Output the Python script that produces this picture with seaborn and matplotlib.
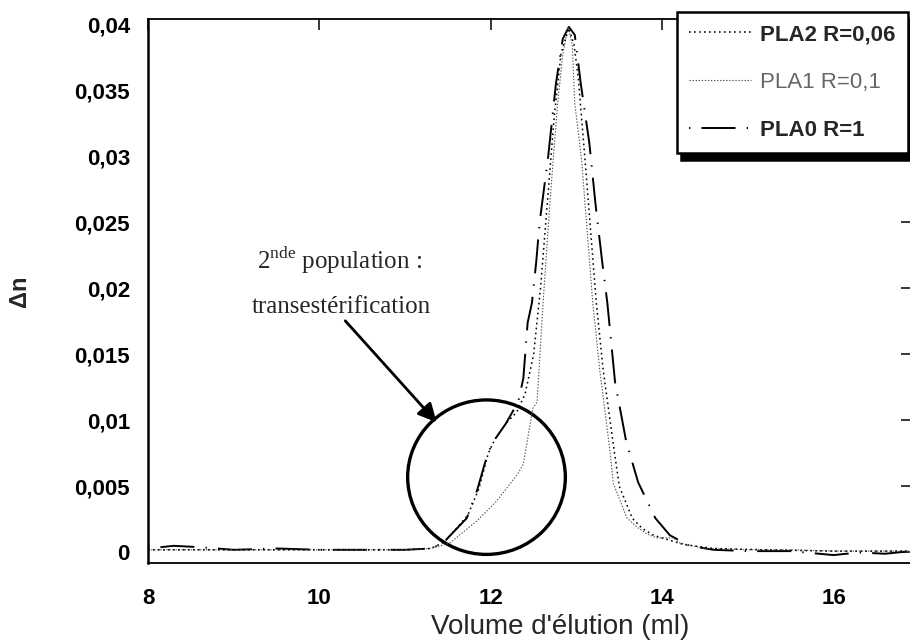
import numpy as np
import pandas as pd
import matplotlib
matplotlib.use("Agg")
import matplotlib.pyplot as plt
import seaborn as sns
from matplotlib.patches import Ellipse

sns.set_theme(style="white")
plt.rcParams['font.family'] = ['Liberation Sans', 'DejaVu Sans']
plt.rcParams['mathtext.fontset'] = 'custom'
plt.rcParams['mathtext.rm'] = 'Liberation Serif'
plt.rcParams['lines.scale_dashes'] = False

# ---- data ----
pla0_x = [8.0, 8.3, 8.6, 9.0, 9.5, 10.0, 10.5, 11.0, 11.3, 11.44, 11.72, 11.84, 11.96, 12.03,
          12.17, 12.32, 12.38, 12.43, 12.48, 12.53, 12.57, 12.67, 12.76, 12.84, 12.91,
          12.98, 13.05, 13.15, 13.22, 13.30, 13.36, 13.45, 13.58, 13.72, 13.92, 14.09,
          14.32, 14.6, 15.0, 15.5, 16.0, 16.3, 16.6, 16.9]
pla0_y = [0.0003, 0.0005, 0.0004, 0.0002, 0.0003, 0.0002, 0.0002, 0.0002, 0.0003, 0.0007,
          0.0026, 0.0047, 0.0074, 0.0084, 0.0097, 0.0114, 0.0132, 0.0174, 0.0189, 0.0220,
          0.0250, 0.0300, 0.0355, 0.0389, 0.0398, 0.0392, 0.0355, 0.0310, 0.0265, 0.0220,
          0.0189, 0.0129, 0.0084, 0.0053, 0.0026, 0.0013, 0.0005, 0.0002, 0.0001, 0.0001,
          -0.0002, 0.0000, -0.0001, 0.0001]

pla1_x = [8.0, 9.0, 10.0, 11.0, 11.3, 11.52, 11.84, 12.07, 12.31, 12.38, 12.49, 12.54, 12.61,
          12.69, 12.78, 12.84, 12.90, 12.95, 12.98, 13.06, 13.19, 13.27, 13.39, 13.43,
          13.59, 13.71, 13.82, 13.94, 14.13, 14.21, 14.5, 15.0, 15.5, 16.0, 16.9]
pla1_y = [0.0002, 0.0002, 0.0002, 0.0002, 0.0003, 0.0007, 0.0024, 0.0039, 0.0059, 0.0067,
          0.0109, 0.0114, 0.0189, 0.0265, 0.0340, 0.0377, 0.0398, 0.0385, 0.0340, 0.0297,
          0.0189, 0.0139, 0.0077, 0.0052, 0.0026, 0.0019, 0.0014, 0.0011, 0.0011, 0.0007,
          0.0003, 0.0002, 0.0002, 0.0001, 0.0001]

pla2_x = [8.0, 9.0, 10.0, 11.0, 11.3, 11.46, 11.73, 11.86, 11.97, 12.05, 12.18, 12.30, 12.40,
          12.50, 12.58, 12.66, 12.74, 12.82, 12.91, 12.97, 13.02, 13.10, 13.23, 13.31,
          13.44, 13.50, 13.65, 13.77, 13.90, 14.05, 14.25, 14.6, 15.2, 16.0, 16.9]
pla2_y = [0.0002, 0.0002, 0.0002, 0.0002, 0.0003, 0.0008, 0.0028, 0.0048, 0.0075, 0.0086,
          0.0098, 0.0106, 0.0120, 0.0150, 0.0200, 0.0265, 0.0330, 0.0378, 0.0397, 0.0385,
          0.0360, 0.0297, 0.0190, 0.0139, 0.0077, 0.0050, 0.0026, 0.0018, 0.0013, 0.0010,
          0.0006, 0.0003, 0.0002, 0.0001, 0.0001]

labels = ["PLA2 R=0,06", "PLA1 R=0,1", "PLA0 R=1"]
yticks = [0, 0.005, 0.01, 0.015, 0.02, 0.025, 0.03, 0.035, 0.04]
ytick_labels = ["0", "0,005", "0,01", "0,015", "0,02", "0,025", "0,03", "0,035", "0,04"]
xticks = [8, 10, 12, 14, 16]

# ---- figure ----
fig = plt.figure(figsize=(9.1, 6.44), dpi=100)
W, H = 910, 644
ax = fig.add_axes([148 / W, 1 - 563 / H, (912 - 148) / W, (563 - 19) / H])

sns.lineplot(x=pla0_x, y=pla0_y, ax=ax, color='black', lw=1.4, estimator=None,
             linestyle=(32.5, (24.5, 8, 1, 8)), label=labels[2])
sns.lineplot(x=pla1_x, y=pla1_y, ax=ax, color='#555555', lw=0.8, estimator=None,
             linestyle=(0, (1, 1.2)), label=labels[1])
sns.lineplot(x=pla2_x, y=pla2_y, ax=ax, color='black', lw=1.1, estimator=None,
             linestyle=(0, (1.2, 2.4)), label=labels[0])

ax.set_xlim(8, 16.915)
ax.set_ylim(-0.0008, 0.0404)
ax.set_xticks(xticks)
ax.set_xticklabels([str(t) for t in xticks])
ax.set_yticks(yticks)
ax.set_yticklabels(ytick_labels)
ax.tick_params(axis='both', direction='in', length=8, width=1.1, colors='black',
               top=True, right=True, labelsize=16)
ax.tick_params(axis='y', pad=13)
ax.tick_params(axis='x', pad=18)
for lab in ax.get_xticklabels() + ax.get_yticklabels():
    lab.set_fontweight('bold')
for s in ax.spines.values():
    s.set_color('black')
    s.set_linewidth(1.3)
ax.spines['left'].set_linewidth(1.8)

ax.set_xlabel("Volume d'élution (ml)", fontsize=20)
ax.xaxis.set_label_coords((560 - 148) / 764, (563 - 614) / 544)
ax.set_ylabel("Δn", fontsize=17, fontweight='bold')
ax.yaxis.set_label_coords((31 - 148) / 764, 0.5)

# annotation
ax.add_patch(Ellipse((11.95, 0.0057), width=1.84, height=0.0117, angle=0,
                     fill=False, edgecolor='black', lw=2.4))
ax.annotate('', xy=(11.39, 0.0097), xytext=(10.28, 0.0177),
            arrowprops=dict(arrowstyle='-|>', lw=2.0, color='black', mutation_scale=28))
ax.text(10.24, 0.0221, r"2$^{\mathrm{nde}}$ population :", family='Liberation Serif',
        fontsize=18, ha='center', va='center')
ax.text(10.25, 0.0186, "transestérification", family='Liberation Serif',
        fontsize=18, ha='center', va='center')

# legend
lines = ax.get_lines()
handles = [lines[2], lines[1], lines[0]]
leg = ax.legend(handles=handles, labels=labels, loc='upper left',
                bbox_to_anchor=(677 / W, 1 - 12 / H), bbox_transform=fig.transFigure,
                fontsize=16, frameon=True, fancybox=False, handlelength=2.8,
                handletextpad=0.4, labelspacing=1.2, borderpad=0.55, borderaxespad=0,
                shadow={'ox': 3, 'oy': -5, 'color': 'black', 'alpha': 1})
leg.get_frame().set_edgecolor('black')
leg.get_frame().set_linewidth(1.8)
leg.get_frame().set_alpha(1)
texts = leg.get_texts()
texts[0].set_fontweight('bold')
texts[1].set_color('#666666')
texts[2].set_fontweight('bold')

fig.savefig('out.png', dpi=100)
